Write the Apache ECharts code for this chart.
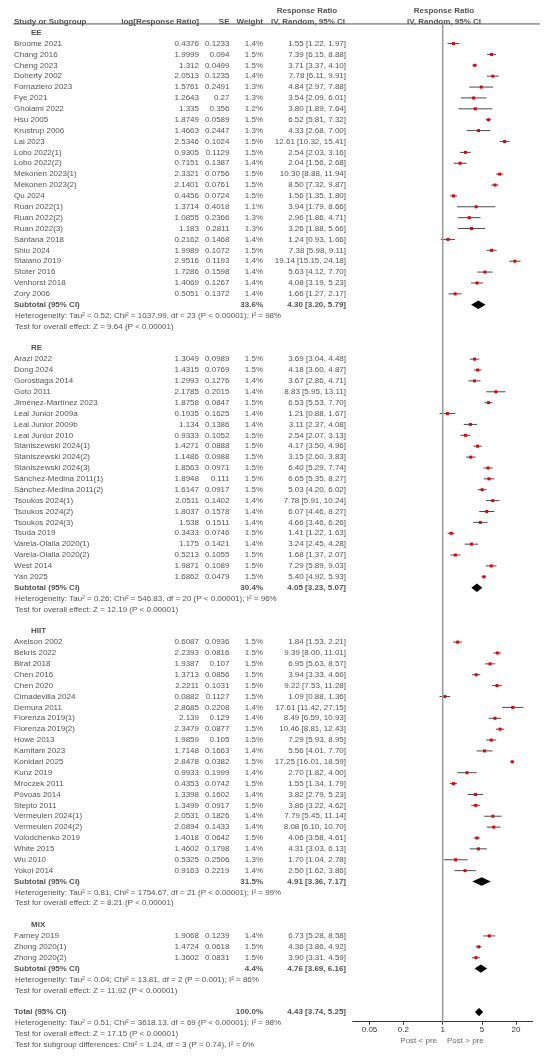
<!DOCTYPE html>
<html>
<head>
<meta charset="utf-8">
<script src="https://cdn.jsdelivr.net/npm/echarts@6/dist/echarts.min.js"></script>
<style>
  body { margin: 0; background: #fff; }
  #chart { width: 550px; height: 1058px; }
</style>
</head>
<body>
<div id="chart"></div>
<script>
// study rows: [name, log[RR], SE, weight %, RR, lower, upper]
const eeStudies = [
  ["Broome 2021", 0.4376, 0.1233, 1.4, 1.55, 1.22, 1.97],
  ["Chang 2016", 1.9999, 0.094, 1.5, 7.39, 6.15, 8.88],
  ["Cheng 2023", 1.312, 0.0499, 1.5, 3.71, 3.37, 4.10],
  ["Doherty 2002", 2.0513, 0.1235, 1.4, 7.78, 6.11, 9.91],
  ["Fornaziero 2023", 1.5761, 0.2491, 1.3, 4.84, 2.97, 7.88],
  ["Fye 2021", 1.2643, 0.27, 1.3, 3.54, 2.09, 6.01],
  ["Gholami 2022", 1.335, 0.356, 1.2, 3.80, 1.89, 7.64],
  ["Hsu 2005", 1.8749, 0.0589, 1.5, 6.52, 5.81, 7.32],
  ["Krustrup 2006", 1.4663, 0.2447, 1.3, 4.33, 2.68, 7.00],
  ["Lai 2023", 2.5346, 0.1024, 1.5, 12.61, 10.32, 15.41],
  ["Lobo 2022(1)", 0.9305, 0.1129, 1.5, 2.54, 2.03, 3.16],
  ["Lobo 2022(2)", 0.7151, 0.1387, 1.4, 2.04, 1.56, 2.68],
  ["Mekonen 2023(1)", 2.3321, 0.0756, 1.5, 10.30, 8.88, 11.94],
  ["Mekonen 2023(2)", 2.1401, 0.0761, 1.5, 8.50, 7.32, 9.87],
  ["Qu 2024", 0.4456, 0.0724, 1.5, 1.56, 1.35, 1.80],
  ["Ruan 2022(1)", 1.3714, 0.4018, 1.1, 3.94, 1.79, 8.66],
  ["Ruan 2022(2)", 1.0855, 0.2366, 1.3, 2.96, 1.86, 4.71],
  ["Ruan 2022(3)", 1.183, 0.2811, 1.3, 3.26, 1.88, 5.66],
  ["Santana 2018", 0.2162, 0.1468, 1.4, 1.24, 0.93, 1.66],
  ["Shiu 2024", 1.9989, 0.1072, 1.5, 7.38, 5.98, 9.11],
  ["Staiano 2019", 2.9516, 0.1193, 1.4, 19.14, 15.15, 24.18],
  ["Stoter 2016", 1.7286, 0.1598, 1.4, 5.63, 4.12, 7.70],
  ["Venhorst 2018", 1.4069, 0.1267, 1.4, 4.08, 3.19, 5.23],
  ["Zory 2006", 0.5051, 0.1372, 1.4, 1.66, 1.27, 2.17]
];
const reStudies = [
  ["Arazi 2022", 1.3049, 0.0989, 1.5, 3.69, 3.04, 4.48],
  ["Dong 2024", 1.4315, 0.0769, 1.5, 4.18, 3.60, 4.87],
  ["Gorostiaga 2014", 1.2993, 0.1276, 1.4, 3.67, 2.86, 4.71],
  ["Goto 2011", 2.1785, 0.2015, 1.4, 8.83, 5.95, 13.11],
  ["Jiménez-Martínez 2023", 1.8758, 0.0847, 1.5, 6.53, 5.53, 7.70],
  ["Leal Junior 2009a", 0.1935, 0.1625, 1.4, 1.21, 0.88, 1.67],
  ["Leal Junior 2009b", 1.134, 0.1386, 1.4, 3.11, 2.37, 4.08],
  ["Leal Junior 2010", 0.9333, 0.1052, 1.5, 2.54, 2.07, 3.13],
  ["Staniszewski 2024(1)", 1.4271, 0.0888, 1.5, 4.17, 3.50, 4.96],
  ["Staniszewski 2024(2)", 1.1486, 0.0988, 1.5, 3.15, 2.60, 3.83],
  ["Staniszewski 2024(3)", 1.8563, 0.0971, 1.5, 6.40, 5.29, 7.74],
  ["Sánchez-Medina 2011(1)", 1.8948, 0.111, 1.5, 6.65, 5.35, 8.27],
  ["Sánchez-Medina 2011(2)", 1.6147, 0.0917, 1.5, 5.03, 4.20, 6.02],
  ["Tsoukos 2024(1)", 2.0511, 0.1402, 1.4, 7.78, 5.91, 10.24],
  ["Tsoukos 2024(2)", 1.8037, 0.1578, 1.4, 6.07, 4.46, 8.27],
  ["Tsoukos 2024(3)", 1.538, 0.1511, 1.4, 4.66, 3.46, 6.26],
  ["Tsuda 2019", 0.3433, 0.0746, 1.5, 1.41, 1.22, 1.63],
  ["Varela-Olalla 2020(1)", 1.175, 0.1421, 1.4, 3.24, 2.45, 4.28],
  ["Varela-Olalla 2020(2)", 0.5213, 0.1055, 1.5, 1.68, 1.37, 2.07],
  ["West 2014", 1.9871, 0.1089, 1.5, 7.29, 5.89, 9.03],
  ["Yan 2025", 1.6862, 0.0479, 1.5, 5.40, 4.92, 5.93]
];
const hiitStudies = [
  ["Axelson 2002", 0.6087, 0.0936, 1.5, 1.84, 1.53, 2.21],
  ["Bekris 2022", 2.2393, 0.0816, 1.5, 9.39, 8.00, 11.01],
  ["Birat 2018", 1.9387, 0.107, 1.5, 6.95, 5.63, 8.57],
  ["Chen 2016", 1.3713, 0.0856, 1.5, 3.94, 3.33, 4.66],
  ["Chen 2020", 2.2211, 0.1031, 1.5, 9.22, 7.53, 11.28],
  ["Cimadevilla 2024", 0.0882, 0.1127, 1.5, 1.09, 0.88, 1.36],
  ["Demura 2011", 2.8685, 0.2208, 1.4, 17.61, 11.42, 27.15],
  ["Fiorenza 2019(1)", 2.139, 0.129, 1.4, 8.49, 6.59, 10.93],
  ["Fiorenza 2019(2)", 2.3479, 0.0877, 1.5, 10.46, 8.81, 12.43],
  ["Howe 2013", 1.9859, 0.105, 1.5, 7.29, 5.93, 8.95],
  ["Kamitani 2023", 1.7148, 0.1663, 1.4, 5.56, 4.01, 7.70],
  ["Konidari 2025", 2.8478, 0.0382, 1.5, 17.25, 16.01, 18.59],
  ["Kunz 2019", 0.9933, 0.1999, 1.4, 2.70, 1.82, 4.00],
  ["Mroczek 2011", 0.4353, 0.0742, 1.5, 1.55, 1.34, 1.79],
  ["Póvoas 2014", 1.3398, 0.1602, 1.4, 3.82, 2.79, 5.23],
  ["Stepto 2011", 1.3499, 0.0917, 1.5, 3.86, 3.22, 4.62],
  ["Vermeulen 2024(1)", 2.0531, 0.1826, 1.4, 7.79, 5.45, 11.14],
  ["Vermeulen 2024(2)", 2.0894, 0.1433, 1.4, 8.08, 6.10, 10.70],
  ["Volodchenko 2019", 1.4018, 0.0642, 1.5, 4.06, 3.58, 4.61],
  ["White 2015", 1.4602, 0.1798, 1.4, 4.31, 3.03, 6.13],
  ["Wu 2010", 0.5325, 0.2506, 1.3, 1.70, 1.04, 2.78],
  ["Yokoi 2014", 0.9163, 0.2219, 1.4, 2.50, 1.62, 3.86]
];
const mixStudies = [
  ["Farney 2019", 1.9068, 0.1239, 1.4, 6.73, 5.28, 8.58],
  ["Zhong 2020(1)", 1.4724, 0.0618, 1.5, 4.36, 3.86, 4.92],
  ["Zhong 2020(2)", 1.3602, 0.0831, 1.5, 3.90, 3.31, 4.59]
];
const groupNames = ["EE", "RE", "HIIT", "MIX"];
const subtotalWeights = [33.6, 30.4, 31.5, 4.4];
const subtotalRR = [[4.30, 3.20, 5.79], [4.05, 3.23, 5.07], [4.91, 3.36, 7.17], [4.76, 3.69, 6.16]];
const heterogeneityTexts = [
  "Heterogeneity: Tau² = 0.52; Chi² = 1037.99, df = 23 (P < 0.00001); I² = 98%",
  "Heterogeneity: Tau² = 0.26; Chi² = 546.83, df = 20 (P < 0.00001); I² = 96%",
  "Heterogeneity: Tau² = 0.81; Chi² = 1754.67, df = 21 (P < 0.00001); I² = 99%",
  "Heterogeneity: Tau² = 0.04; Chi² = 13.81, df = 2 (P = 0.001); I² = 86%"
];
const effectTexts = [
  "Test for overall effect: Z = 9.64 (P < 0.00001)",
  "Test for overall effect: Z = 12.19 (P < 0.00001)",
  "Test for overall effect: Z = 8.21 (P < 0.00001)",
  "Test for overall effect: Z = 11.92 (P < 0.00001)"
];
const totalWeight = 100.0;
const totalRR = [4.43, 3.74, 5.25];
const totalTexts = [
  "Heterogeneity: Tau² = 0.51; Chi² = 3618.13, df = 69 (P < 0.00001); I² = 98%",
  "Test for overall effect: Z = 17.15 (P < 0.00001)",
  "Test for subgroup differences: Chi² = 1.24, df = 3 (P = 0.74), I² = 0%"
];
const axisTicks = [0.05, 0.2, 1, 5, 20];

const groupStudies = [eeStudies, reStudies, hiitStudies, mixStudies];
const lg = Math.log10;
const ciText = (r) => r[0].toFixed(2) + " [" + r[1].toFixed(2) + ", " + r[2].toFixed(2) + "]";

// column anchors (px in the full-width table grid)
const COL = { name: 14, group: 31, logrr: 199, se: 229.5, weight: 263, ci: 346 };

const texts = [];
const studyMarks = [];
const diamonds = [];
function addText(x, k, s, align, bold, color) {
  texts.push({
    name: s,
    value: [x, k],
    label: { align: align, fontWeight: bold ? "bold" : "normal", color: color || "#262626" }
  });
}

// header
addText(307, -2, "Response Ratio", "center", true);
addText(444, -2, "Response Ratio", "center", true);
addText(COL.name, -1, "Study or Subgroup", "left", true);
addText(COL.logrr, -1, "log[Response Ratio]", "right", true);
addText(COL.se, -1, "SE", "right", true);
addText(COL.weight, -1, "Weight", "right", true);
addText(308, -1, "IV, Random, 95% CI", "center", true);
addText(444, -1, "IV, Random, 95% CI", "center", true);

let k = 0;
groupStudies.forEach((studies, g) => {
  addText(COL.group, k, groupNames[g], "left", true);
  k++;
  studies.forEach((s) => {
    addText(COL.name, k, s[0], "left");
    addText(COL.logrr, k, String(s[1]), "right");
    addText(COL.se, k, String(s[2]), "right");
    addText(COL.weight, k, s[3].toFixed(1) + "%", "right");
    addText(COL.ci, k, ciText([s[4], s[5], s[6]]), "right");
    studyMarks.push([lg(s[4]), k, lg(s[5]), lg(s[6])]);
    k++;
  });
  addText(COL.name, k, "Subtotal (95% CI)", "left", true);
  addText(COL.weight, k, subtotalWeights[g].toFixed(1) + "%", "right", true);
  addText(COL.ci, k, ciText(subtotalRR[g]), "right", true);
  diamonds.push([lg(subtotalRR[g][0]), k, lg(subtotalRR[g][1]), lg(subtotalRR[g][2])]);
  k++;
  addText(COL.name + 1, k, heterogeneityTexts[g], "left");
  k++;
  addText(COL.name + 1, k, effectTexts[g], "left");
  k += 2;
});
addText(COL.name, k, "Total (95% CI)", "left", true);
addText(COL.weight, k, totalWeight.toFixed(1) + "%", "right", true);
addText(COL.ci, k, ciText(totalRR), "right", true);
diamonds.push([lg(totalRR[0]), k, lg(totalRR[1]), lg(totalRR[2])]);
totalTexts.forEach((t, i) => addText(COL.name + 1, k + 1 + i, t, "left"));
addText(437, k + 2.6, "Post < pre", "right", false, "#444");
addText(447, k + 2.6, "Post > pre", "left", false, "#444");

const ROW_PX = 10.883;
const Y_MIN = -3;
const AXIS_Y = 1021.7;

const chart = echarts.init(document.getElementById("chart"));
chart.setOption({
  animation: false,
  backgroundColor: "#fff",
  textStyle: { fontFamily: "Liberation Sans, Arial, sans-serif" },
  grid: [
    { left: 0, width: 550, top: 0, height: 97 * ROW_PX },
    { left: 352.7, width: 180, top: 0, height: AXIS_Y }
  ],
  xAxis: [
    { gridIndex: 0, type: "value", min: 0, max: 550, show: false },
    {
      gridIndex: 1, type: "value", min: -1.6, max: 1.6, position: "bottom",
      axisLine: { onZero: false, lineStyle: { color: "#333", width: 1 } },
      axisTick: { customValues: axisTicks.map(lg), length: 3, lineStyle: { color: "#333" } },
      axisLabel: {
        customValues: axisTicks.map(lg),
        fontSize: 8, color: "#333", margin: 4,
        formatter: (v) => String(+Math.pow(10, v).toPrecision(2))
      },
      splitLine: { show: false }
    }
  ],
  yAxis: [
    { gridIndex: 0, type: "value", inverse: true, min: Y_MIN, max: 94, show: false },
    { gridIndex: 1, type: "value", inverse: true, min: Y_MIN, max: Y_MIN + AXIS_Y / ROW_PX, show: false }
  ],
  series: [
    {
      // header underline
      type: "line", xAxisIndex: 0, yAxisIndex: 0, symbol: "none", silent: true,
      lineStyle: { color: "#555", width: 1 },
      data: [[13, -0.8], [540, -0.8]]
    },
    {
      // line of no effect
      type: "line", xAxisIndex: 1, yAxisIndex: 1, symbol: "none", silent: true,
      lineStyle: { color: "#9a9a9a", width: 1.5 },
      data: [[0, -0.8], [0, Y_MIN + AXIS_Y / ROW_PX]]
    },
    {
      type: "custom", xAxisIndex: 1, yAxisIndex: 1, silent: true,
      data: studyMarks,
      renderItem: function (params, api) {
        const c = api.coord([api.value(0), api.value(1)]);
        const l = api.coord([api.value(2), api.value(1)]);
        const r = api.coord([api.value(3), api.value(1)]);
        return {
          type: "group",
          children: [
            { type: "line", shape: { x1: l[0], y1: c[1], x2: r[0], y2: c[1] }, style: { stroke: "#4a4a4a", lineWidth: 1 } },
            { type: "rect", shape: { x: c[0] - 1.5, y: c[1] - 1.5, width: 3, height: 3 }, style: { fill: "#e00000" } }
          ]
        };
      }
    },
    {
      type: "custom", xAxisIndex: 1, yAxisIndex: 1, silent: true,
      data: diamonds,
      renderItem: function (params, api) {
        const c = api.coord([api.value(0), api.value(1)]);
        const l = api.coord([api.value(2), api.value(1)]);
        const r = api.coord([api.value(3), api.value(1)]);
        return {
          type: "polygon",
          shape: { points: [[l[0], c[1]], [c[0], c[1] - 4.2], [r[0], c[1]], [c[0], c[1] + 4.2]] },
          style: { fill: "#000" }
        };
      }
    },
    {
      type: "scatter", xAxisIndex: 0, yAxisIndex: 0, silent: true,
      symbolSize: 1, itemStyle: { color: "rgba(0,0,0,0)" },
      data: texts,
      label: {
        show: true, position: "inside", fontSize: 8, verticalAlign: "middle",
        formatter: (p) => p.name
      }
    }
  ]
});
</script>
</body>
</html>
